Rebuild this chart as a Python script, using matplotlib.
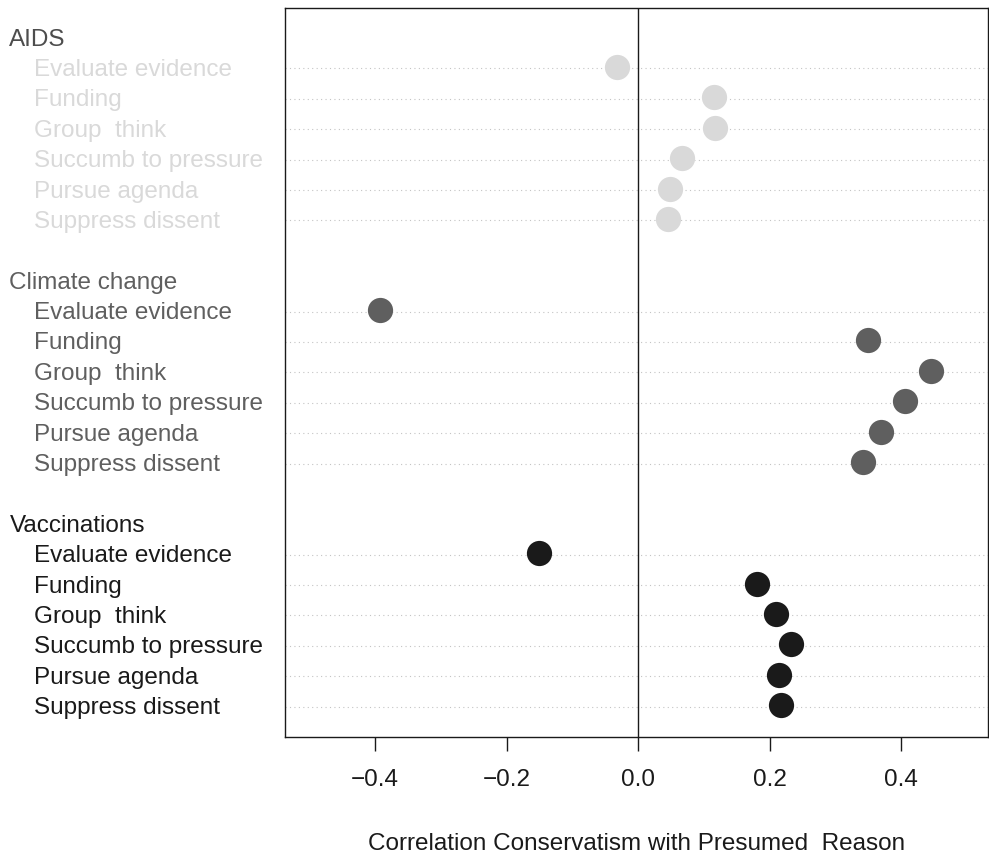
import matplotlib
matplotlib.use("Agg")
import matplotlib.pyplot as plt
from matplotlib.transforms import blended_transform_factory

plt.rcParams["font.family"] = ["Liberation Sans", "DejaVu Sans"]

groups = ["AIDS", "Climate change", "Vaccinations"]
reasons = ["Evaluate evidence", "Funding", "Group  think",
           "Succumb to pressure", "Pursue agenda", "Suppress dissent"]
aids = [-0.032, 0.115, 0.117, 0.067, 0.049, 0.045]
climate = [-0.392, 0.349, 0.445, 0.406, 0.369, 0.342]
vacc = [-0.151, 0.181, 0.210, 0.233, 0.214, 0.217]
values = [aids, climate, vacc]

dot_colors = ["#d9d9d9", "#5f5f5f", "#1a1a1a"]
head_colors = ["#4d4d4d", "#5f5f5f", "#1a1a1a"]
xticks = [-0.4, -0.2, 0.0, 0.2, 0.4]

fig = plt.figure(figsize=(9.89, 8.55), dpi=100)
ax = fig.add_axes([0.288, 0.138, 0.711, 0.853])
trans = blended_transform_factory(fig.transFigure, ax.transData)

n_rows = len(groups) * (len(reasons) + 1) + len(groups) - 1
y = n_rows
fs = 17.5
for g, vals, dc, hc in zip(groups, values, dot_colors, head_colors):
    ax.text(0.0095, y - 0.05, g, transform=trans,
            ha="left", va="center", fontsize=fs, color=hc)
    y -= 1
    for r, v in zip(reasons, vals):
        ax.axhline(y, color="#c4c4c4", lw=0.8, ls=(0, (1, 3)), zorder=1)
        ax.text(0.0345, y - 0.05, r, transform=trans,
                ha="left", va="center", fontsize=fs, color=dc)
        ax.scatter(v, y + 0.05, s=330, color=dc, zorder=3, linewidths=0)
        y -= 1
    y -= 1

ax.axvline(0, color="#1a1a1a", lw=1.0, zorder=2)
ax.set_xlim(-0.537, 0.532)
ax.set_ylim(0, n_rows + 1)
ax.set_yticks([])
ax.set_xticks(xticks)
ax.set_xticklabels(["\u2212%.1f" % -t if t < 0 else "%.1f" % t for t in xticks])
ax.tick_params(axis="x", direction="out", length=10, width=1.0,
               labelsize=fs, pad=13, colors="#1a1a1a")
for s in ax.spines.values():
    s.set_linewidth(1.0)
    s.set_color("#1a1a1a")
ax.set_xlabel("Correlation Conservatism with Presumed  Reason",
              fontsize=fs, color="#1a1a1a", labelpad=30)

fig.savefig("out.png", dpi=100)
